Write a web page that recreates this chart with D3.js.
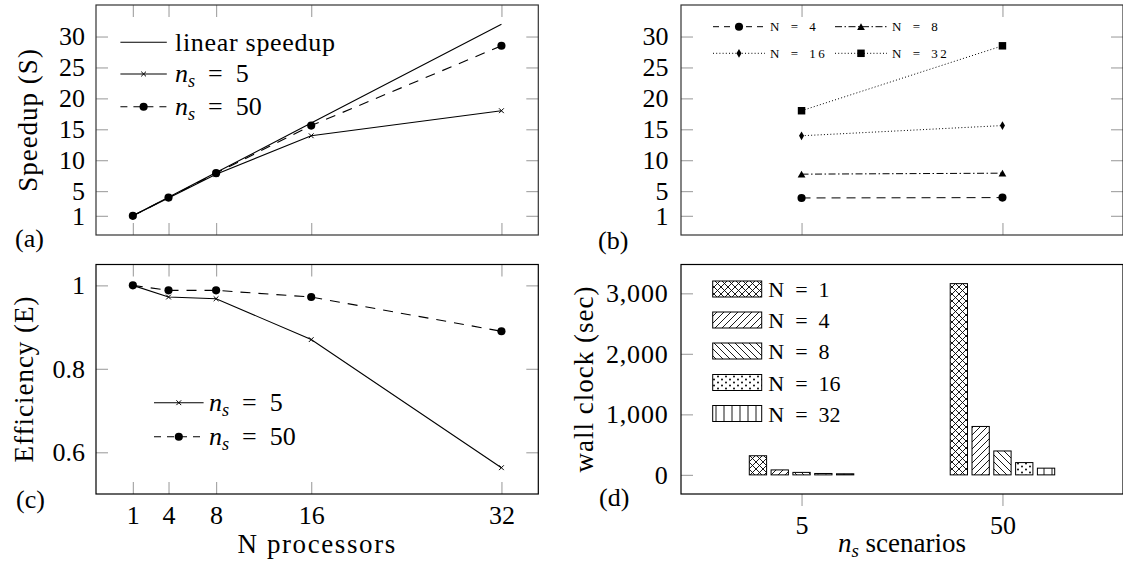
<!DOCTYPE html>
<html><head><meta charset="utf-8">
<script src="https://cdn.jsdelivr.net/npm/d3@7"></script>
<style>body{margin:0;background:#fff}svg{display:block}</style>
</head><body><svg id="chart" width="1123" height="563"></svg>
<script>
// ---------------- data ----------------
const processors = [1, 4, 8, 16, 32];
const linearSpeedup = [1, 4, 8, 16, 32];
const speedupNs5 = [1, 3.89, 7.74, 13.95, 18.0];
const speedupNs50 = [1, 3.95, 7.9, 15.6, 28.5];
const efficiencyNs5 = [1, 0.972, 0.968, 0.87, 0.563];
const efficiencyNs50 = [1, 0.988, 0.988, 0.972, 0.89];
const scenarios = ["5", "50"];
const speedupN4 = [3.89, 3.95];
const speedupN8 = [7.74, 7.9];
const speedupN16 = [13.95, 15.6];
const speedupN32 = [18.0, 28.5];
const wallClockNs5 = [316, 82, 41, 23, 18];
const wallClockNs50 = [3160, 800, 395, 203, 111];
const barNames = ["1", "4", "8", "16", "32"];
const speedupTicks = [1, 5, 10, 15, 20, 25, 30];
const efficiencyTicks = [0.6, 0.8, 1];
const wallTicks = [0, 1000, 2000, 3000];

// ---------------- layout ----------------
const svg = d3.select("#chart");
const FONT = "Liberation Serif";
const TICK = "#a8a8a8";
const A = {x0: 96, x1: 538.3, y0: 5, y1: 235};
const C = {x0: 96, x1: 538.3, y0: 264.5, y1: 494};
const B = {x0: 681, x1: 1123, y0: 5, y1: 235};
const D = {x0: 681, x1: 1123, y0: 264.5, y1: 494};

const xN = d3.scaleLinear().domain([-2.1, 35.1]).range([A.x0, A.x1]);
const yS = d3.scaleLinear().domain([-2.1, 35.1]).range([A.y1, A.y0]);
const yE = d3.scaleLinear().domain([0.5, 1.05]).range([C.y1, C.y0]);
const xB = d3.scaleLinear().domain([-0.6, 1.6]).range([B.x0, B.x1]);
const yW = d3.scaleLinear().domain([-316, 3476]).range([D.y1, D.y0]);

// patterns
const defs = svg.append("defs");
function pat(id, w, h, draw) {
  const p = defs.append("pattern").attr("id", id).attr("patternUnits", "userSpaceOnUse")
    .attr("width", w).attr("height", h);
  p.append("rect").attr("width", w).attr("height", h).attr("fill", "#fff");
  draw(p);
}
const ps = {stroke: "#000", "stroke-width": 0.9, fill: "none"};
function ap(p, d) { const e = p.append("path").attr("d", d); Object.entries(ps).forEach(([k, v]) => e.attr(k, v)); }
pat("p1", 7, 7, p => ap(p, "M0,0L7,7M-1,6L1,8M6,-1L8,1M0,7L7,0M-1,1L1,-1M6,8L8,6"));
pat("p4", 7, 7, p => ap(p, "M0,7L7,0M-1,1L1,-1M6,8L8,6"));
pat("p8", 7, 7, p => ap(p, "M0,0L7,7M-1,6L1,8M6,-1L8,1"));
pat("p16", 8, 6, p => {
  p.append("circle").attr("cx", 2).attr("cy", 1.5).attr("r", 0.95).attr("fill", "#000");
  p.append("circle").attr("cx", 6).attr("cy", 4.5).attr("r", 0.95).attr("fill", "#000");
});
pat("p32", 8, 8, p => ap(p, "M4,-1L4,9"));
const fills = ["url(#p1)", "url(#p4)", "url(#p8)", "url(#p16)", "url(#p32)"];

// ---------------- helpers ----------------
function styleAxis(g, size) {
  g.selectAll(".domain").remove();
  g.selectAll(".tick line").attr("stroke", TICK).attr("stroke-width", 1.2);
  g.selectAll(".tick text").attr("font-family", FONT).attr("font-size", size).attr("fill", "#000");
}
function frame(P, xs, ys, xt, yt, o) {
  const g = svg.append("g");
  const L = g.append("g").attr("transform", `translate(${P.x0},0)`)
    .call(d3.axisLeft(ys).tickValues(yt).tickSizeInner(-12).tickSizeOuter(0).tickPadding(o.lpad).tickFormat(o.yfmt));
  styleAxis(L, 26);
  if (o.yls) L.selectAll(".tick text").attr("letter-spacing", o.yls);
  if (o.right) styleAxis(g.append("g").attr("transform", `translate(${P.x1},0)`)
    .call(d3.axisRight(ys).tickValues(yt).tickSizeInner(-12).tickSizeOuter(0).tickFormat("")), 26);
  if (o.top) styleAxis(g.append("g").attr("transform", `translate(0,${P.y0})`)
    .call(d3.axisTop(xs).tickValues(xt).tickSizeInner(-12).tickSizeOuter(0).tickFormat("")), 26);
  if (o.bottom) styleAxis(g.append("g").attr("transform", `translate(0,${P.y1})`)
    .call(d3.axisBottom(xs).tickValues(xt).tickSizeInner(o.bottomIn ? -12 : 12).tickSizeOuter(0)
      .tickPadding(o.bpad || 0).tickFormat(o.xfmt || "")), 26);
  g.append("rect").attr("x", P.x0).attr("y", P.y0).attr("width", P.x1 - P.x0).attr("height", P.y1 - P.y0)
    .attr("fill", "none").attr("stroke", o.box || "#000").attr("stroke-width", 1.2);
}
function crossPath(x, y, s) { return `M${x - s},${y - s}L${x + s},${y + s}M${x - s},${y + s}L${x + s},${y - s}`; }
function drawMarker(g, type, x, y) {
  if (type === "x") {
    g.append("path").attr("d", crossPath(x, y, 2.4)).attr("stroke", "#000").attr("stroke-width", 1).attr("fill", "none");
  } else {
    const map = {circle: [d3.symbolCircle, 52], tri: [d3.symbolTriangle, 26], diamond: [d3.symbolDiamond, 22], square: [d3.symbolSquare, 56]};
    const [sym, size] = map[type];
    const dy = type === "tri" ? 1 : 0;
    g.append("path").attr("d", d3.symbol(sym, size)()).attr("transform", `translate(${x},${y + dy})`).attr("fill", "#000");
  }
}
function series(g, xs, ys, xvals, yvals, dash, marker, sw) {
  const line = d3.line().x((d, i) => xs(xvals[i])).y(d => ys(d));
  g.append("path").attr("d", line(yvals)).attr("fill", "none").attr("stroke", "#000")
    .attr("stroke-width", sw || 1.1).attr("stroke-dasharray", dash || null);
  if (marker) yvals.forEach((v, i) => drawMarker(g, marker, xs(xvals[i]), ys(v)));
}
function nsText(g, x, y, size, suffix, anchor) {
  const t = g.append("text").attr("x", x).attr("y", y).attr("font-family", FONT).attr("font-size", size)
    .attr("text-anchor", anchor || "start");
  t.append("tspan").attr("font-style", "italic").text("n");
  t.append("tspan").attr("font-style", "italic").attr("font-size", size * 0.7).attr("dy", size * 0.2).text("s");
  t.append("tspan").attr("dy", -size * 0.2).text(suffix);
  return t;
}
function legendRow(g, x0, x1, y, dash, marker, sw) {
  g.append("line").attr("x1", x0).attr("x2", x1).attr("y1", y).attr("y2", y).attr("stroke", "#000")
    .attr("stroke-width", sw || 1.1).attr("stroke-dasharray", dash || null);
  if (marker) drawMarker(g, marker, (x0 + x1) / 2, y);
}
function label(txt, x, y, size) {
  svg.append("text").attr("x", x).attr("y", y).attr("font-family", FONT).attr("font-size", size || 26).text(txt);
}
function vTitle(txt, x, y) {
  svg.append("text").attr("transform", `translate(${x},${y}) rotate(-90)`).attr("text-anchor", "middle")
    .attr("font-family", FONT).attr("font-size", 27).attr("letter-spacing", 1).text(txt);
}
const DASH = "10,8";

// ---------------- panel (a) ----------------
frame(A, xN, yS, processors, speedupTicks, {lpad: 11, right: true, top: true, bottom: true, bottomIn: true, yfmt: d3.format("d"), box: "#333"});
const ga = svg.append("g");
series(ga, xN, yS, processors, linearSpeedup, null, null);
series(ga, xN, yS, processors, speedupNs5, null, "x");
series(ga, xN, yS, processors, speedupNs50, DASH, "circle");
legendRow(ga, 120.4, 166.8, 42.3, null, null);
ga.append("text").attr("x", 175).attr("y", 50.5).attr("font-family", FONT).attr("font-size", 26).attr("letter-spacing", 0.7).text("linear speedup");
legendRow(ga, 120.4, 166.8, 74, null, "x");
nsText(ga, 175, 82, 26, "\u2002=\u20025");
legendRow(ga, 120.4, 166.8, 106.7, "7,6", "circle");
nsText(ga, 175, 114.7, 26, "\u2002=\u200250");
vTitle("Speedup (S)", 37, 120);
label("(a)", 15, 247);

// ---------------- panel (c) ----------------
frame(C, xN, yE, processors, efficiencyTicks, {lpad: 11, right: true, top: true, bottom: true, bottomIn: true, bpad: 11.5,
  yfmt: d3.format("~g"), xfmt: d3.format("d")});
const gc = svg.append("g");
series(gc, xN, yE, processors, efficiencyNs5, null, "x");
series(gc, xN, yE, processors, efficiencyNs50, DASH, "circle");
legendRow(gc, 154, 203.6, 402.7, null, "x");
nsText(gc, 209, 411, 26, "\u2002=\u20025");
legendRow(gc, 154, 203.6, 436.7, "7,6", "circle");
nsText(gc, 209, 445, 26, "\u2002=\u200250");
vTitle("Efficiency (E)", 33, 379);
label("(c)", 16, 508);
svg.append("text").attr("x", (C.x0 + C.x1) / 2).attr("y", 553).attr("text-anchor", "middle")
  .attr("font-family", FONT).attr("font-size", 27).attr("letter-spacing", 1.6).text("N processors");

// ---------------- panel (b) ----------------
frame(B, xB, yS, [0, 1], speedupTicks, {lpad: 12.5, right: true, top: true, bottom: true, bottomIn: true, yfmt: d3.format("d"), box: "#333"});
const gb = svg.append("g");
const bIdx = [0, 1];
const bSeries = [
  {vals: speedupN4, dash: "9,6", marker: "circle", name: "4"},
  {vals: speedupN8, dash: "7,2.5,1.5,2.5", marker: "tri", name: "8"},
  {vals: speedupN16, dash: "1,2.2", marker: "diamond", name: "16"},
  {vals: speedupN32, dash: "1,2.2", marker: "square", name: "32"}
];
bSeries.forEach(s => series(gb, xB, yS, bIdx, s.vals, s.dash, s.marker, 1));
const legB = [[740, 26.7], [862, 26.7], [740, 53.3], [862, 53.3]];
bSeries.forEach((s, i) => {
  const [mx, my] = legB[i];
  legendRow(gb, mx - 27, mx + 25, my, s.dash === "9,6" ? "6,5" : s.dash, s.marker, 1);
  gb.append("text").attr("x", mx + 30).attr("y", my + 4.6).attr("font-family", FONT).attr("font-size", 13)
    .attr("letter-spacing", 2.4).text("N\u2002=\u2002" + s.name);
});
label("(b)", 598, 249);

// ---------------- panel (d) ----------------
frame(D, xB, yW, [0, 1], wallTicks, {lpad: 12.5, bottom: true, bottomIn: false, bpad: 9.5, yls: 0.8,
  yfmt: d3.format(","), xfmt: i => scenarios[i]});
const gd = svg.append("g");
const BW = 17.3, PITCH = 21.8;
[wallClockNs5, wallClockNs50].forEach((vals, gi) => {
  vals.forEach((v, i) => {
    const cx = xB(gi) + (i - 2) * PITCH;
    gd.append("rect").attr("x", cx - BW / 2).attr("y", yW(v)).attr("width", BW)
      .attr("height", Math.max(0.6, yW(0) - yW(v))).attr("fill", fills[i]).attr("stroke", "#000").attr("stroke-width", 1);
  });
});
const legDy = [289, 320, 351, 382.5, 413.5];
barNames.forEach((n, i) => {
  gd.append("rect").attr("x", 712.7).attr("y", legDy[i] - 8).attr("width", 49).attr("height", 16)
    .attr("fill", fills[i]).attr("stroke", "#000").attr("stroke-width", 1);
  gd.append("text").attr("x", 768.3).attr("y", legDy[i] + 8).attr("font-family", FONT).attr("font-size", 22)
    .text("N\u2002=\u2002" + n);
});
vTitle("wall clock (sec)", 593, 379);
label("(d)", 599, 506);
nsText(svg, (D.x0 + D.x1) / 2, 552, 27, " scenarios", "middle");
</script></body></html>
